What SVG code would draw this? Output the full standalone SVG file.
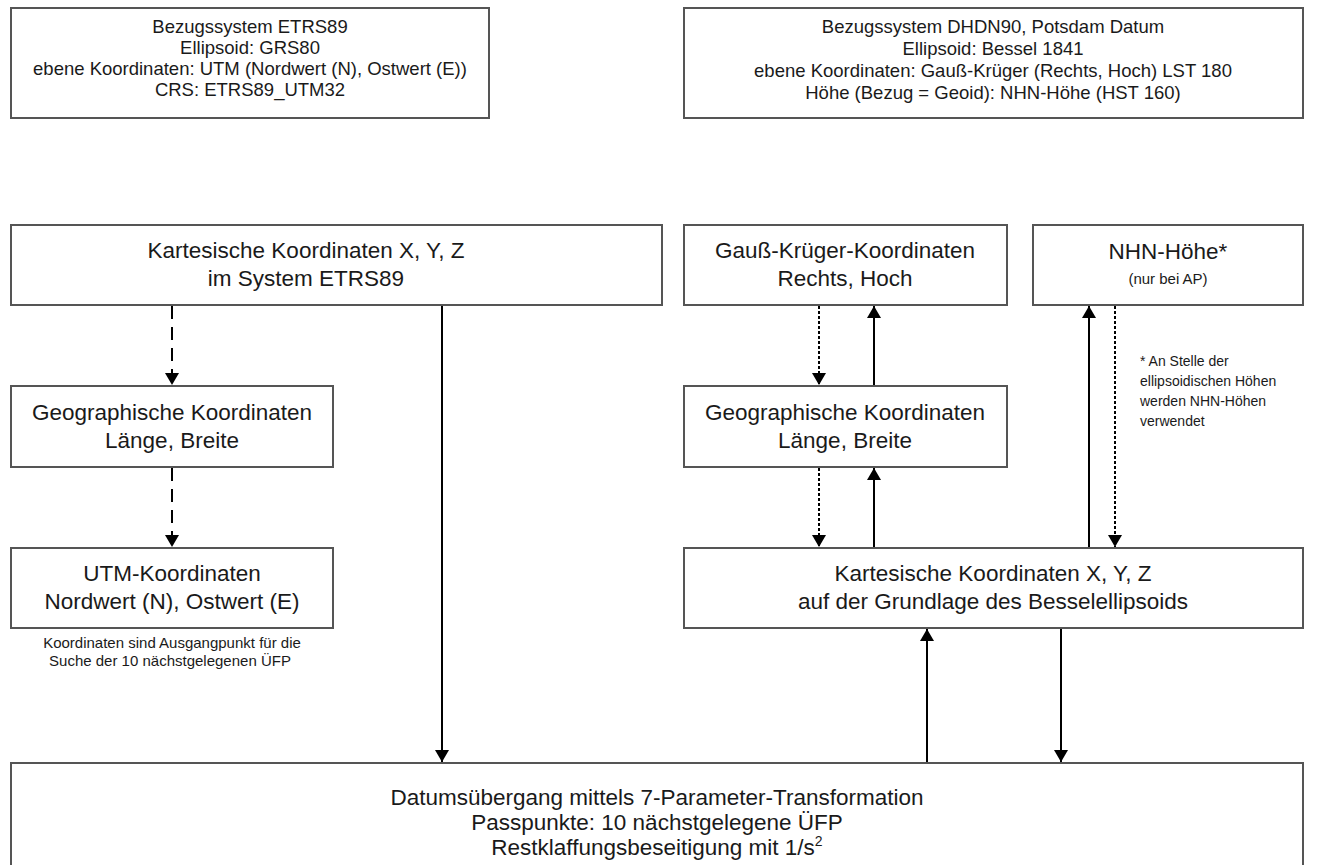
<svg xmlns="http://www.w3.org/2000/svg" width="1327" height="865" viewBox="0 0 1327 865">
<defs>
<marker id="ah" viewBox="0 0 12 14" refX="12" refY="7" markerWidth="12" markerHeight="14" markerUnits="userSpaceOnUse" orient="auto">
<path d="M0,0 L12,7 L0,14 Z" fill="#000"/>
</marker>
<style>
.box{fill:#fff;stroke:#555;stroke-width:2}
.t{font-family:"Liberation Sans",Arial,sans-serif;fill:#1a1a1a;text-anchor:middle}
.s19{font-size:18.5px}
.s22{font-size:22.5px}
.s15{font-size:15px}
.note{font-family:"Liberation Sans",Arial,sans-serif;fill:#1a1a1a;font-size:14px}
.c{fill:none;stroke:#000;stroke-width:2}
.dash{stroke-dasharray:13 8}
.dot{stroke-dasharray:3 2}
</style>
</defs>
<rect width="1327" height="865" fill="#fff"/>
<g id="etrs-system">
<rect class="box" x="11" y="8" width="478" height="110"/>
<text class="t s19" x="250" y="33">Bezugssystem ETRS89</text>
<text class="t s19" x="250" y="54">Ellipsoid: GRS80</text>
<text class="t s19" x="250" y="75">ebene Koordinaten: UTM (Nordwert (N), Ostwert (E))</text>
<text class="t s19" x="250" y="96">CRS: ETRS89_UTM32</text>
</g>
<g id="dhdn-system">
<rect class="box" x="684" y="8" width="619" height="110"/>
<text class="t s19" x="993" y="33">Bezugssystem DHDN90, Potsdam Datum</text>
<text class="t s19" x="993" y="55">Ellipsoid: Bessel 1841</text>
<text class="t s19" x="993" y="77">ebene Koordinaten: Gauß-Krüger (Rechts, Hoch) LST 180</text>
<text class="t s19" x="993" y="99">Höhe (Bezug = Geoid): NHN-Höhe (HST 160)</text>
</g>
<g id="kart-etrs">
<rect class="box" x="11" y="225" width="651" height="80"/>
<text class="t s22" x="306" y="258">Kartesische Koordinaten X, Y, Z</text>
<text class="t s22" x="306" y="286">im System ETRS89</text>
</g>
<g id="geo-left">
<rect class="box" x="11" y="386" width="322" height="81"/>
<text class="t s22" x="172" y="420">Geographische Koordinaten</text>
<text class="t s22" x="172" y="448">Länge, Breite</text>
</g>
<g id="utm">
<rect class="box" x="11" y="548" width="322" height="80"/>
<text class="t s22" x="172" y="581">UTM-Koordinaten</text>
<text class="t s22" x="172" y="609">Nordwert (N), Ostwert (E)</text>
<text class="t" x="172" y="648" style="font-size:15px">Koordinaten sind Ausgangpunkt für die</text>
<text class="t" x="170" y="666" style="font-size:15px">Suche der 10 nächstgelegenen ÜFP</text>
</g>
<g id="gk">
<rect class="box" x="684" y="225" width="323" height="80"/>
<text class="t s22" x="845" y="258">Gauß-Krüger-Koordinaten</text>
<text class="t s22" x="845" y="286">Rechts, Hoch</text>
</g>
<g id="nhn">
<rect class="box" x="1033" y="225" width="270" height="80"/>
<text class="t s22" x="1168" y="259">NHN-Höhe*</text>
<text class="t s15" x="1168" y="284">(nur bei AP)</text>
</g>
<g id="nhn-note">
<text class="note" x="1140" y="366">* An Stelle der</text>
<text class="note" x="1140" y="386">ellipsoidischen Höhen</text>
<text class="note" x="1140" y="406">werden NHN-Höhen</text>
<text class="note" x="1140" y="426">verwendet</text>
</g>
<g id="geo-right">
<rect class="box" x="684" y="386" width="323" height="81"/>
<text class="t s22" x="845" y="420">Geographische Koordinaten</text>
<text class="t s22" x="845" y="448">Länge, Breite</text>
</g>
<g id="kart-bessel">
<rect class="box" x="684" y="548" width="619" height="80"/>
<text class="t s22" x="993" y="581">Kartesische Koordinaten X, Y, Z</text>
<text class="t s22" x="993" y="609">auf der Grundlage des Besselellipsoids</text>
</g>
<g id="datum">
<rect class="box" x="11" y="763" width="1292" height="110"/>
<text class="t s22" x="657" y="805">Datumsübergang mittels 7-Parameter-Transformation</text>
<text class="t s22" x="657" y="830">Passpunkte: 10 nächstgelegene ÜFP</text>
<text class="t s22" x="657" y="855">Restklaffungsbeseitigung mit 1/s<tspan dy="-9" font-size="14">2</tspan></text>
</g>
<g id="connectors">
<line class="c dash" x1="172" y1="306" x2="172" y2="385" marker-end="url(#ah)"/>
<line class="c dash" x1="172" y1="468" x2="172" y2="547" marker-end="url(#ah)"/>
<line class="c" x1="442" y1="306" x2="442" y2="762" marker-end="url(#ah)"/>
<line class="c dot" x1="819" y1="306" x2="819" y2="385" marker-end="url(#ah)"/>
<line class="c" x1="874" y1="385" x2="874" y2="306" marker-end="url(#ah)"/>
<line class="c dot" x1="819" y1="468" x2="819" y2="547" marker-end="url(#ah)"/>
<line class="c" x1="874" y1="547" x2="874" y2="468" marker-end="url(#ah)"/>
<line class="c" x1="1089" y1="547" x2="1089" y2="306" marker-end="url(#ah)"/>
<line class="c dot" x1="1115" y1="306" x2="1115" y2="547" marker-end="url(#ah)"/>
<line class="c" x1="927" y1="762" x2="927" y2="629" marker-end="url(#ah)"/>
<line class="c" x1="1061" y1="629" x2="1061" y2="762" marker-end="url(#ah)"/>
</g>
</svg>
